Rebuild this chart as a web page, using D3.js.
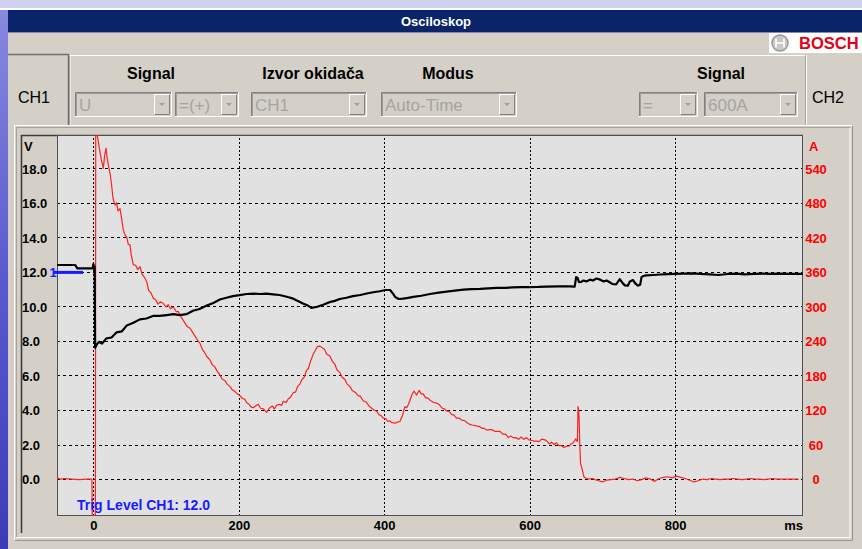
<!DOCTYPE html>
<html><head><meta charset="utf-8">
<script src="https://cdn.jsdelivr.net/npm/d3@7/dist/d3.min.js"></script>
<style>
html,body{margin:0;padding:0;overflow:hidden;background:#5a5ac8;}
svg{display:block;font-family:"Liberation Sans",Arial,sans-serif;}
</style></head>
<body>
<svg id="c" width="862" height="549"></svg>
<script>
// ---------- data ----------
const timeTicks = [0, 200, 400, 600, 800];
const voltTicks = [0, 2, 4, 6, 8, 10, 12, 14, 16, 18];
const ampTicks  = [0, 60, 120, 180, 240, 300, 360, 420, 480, 540];

// CH1 voltage (V) vs time (ms)
const ch1Time = [-50,-25,-22,-1,0,1,1.8,2.4,4.7,8,12,18,25,32,39,46,55,64,73,82,91,101,110,119,128,137,146,156,165,174,183,192,201,211,220,229,238,247,256,266,275,282,289,295,300,308,316,325,332,339,348,357,367,376,385,394,402,408,412,415,420,426,433,440,451,463,475,486,497,509,520,532,543,555,566,577,589,600,612,623,640,655,662,664,666,668,671,674,678,683,687,692,697,702,706,710,714,719,724,728,731,735,738,742,746,749,752,754,756,758,761,770,780,790,800,812,824,836,848,860,872,884,896,908,920,932,944,956,968,976];
const ch1Volt = [12.4,12.4,12.2,12.2,12.45,12.3,12.3,7.6,7.8,7.95,7.85,8.15,8.2,8.5,8.55,8.9,9.05,9.25,9.3,9.45,9.45,9.5,9.55,9.5,9.55,9.75,9.85,10.05,10.2,10.4,10.5,10.6,10.65,10.72,10.74,10.72,10.74,10.7,10.66,10.56,10.45,10.3,10.15,10.05,9.92,9.98,10.1,10.25,10.32,10.43,10.5,10.6,10.66,10.75,10.82,10.88,10.95,10.95,10.75,10.55,10.43,10.45,10.5,10.55,10.62,10.72,10.8,10.86,10.91,10.97,11.0,11.02,11.05,11.07,11.08,11.1,11.12,11.12,11.13,11.15,11.16,11.16,11.15,11.7,11.65,11.4,11.42,11.5,11.45,11.55,11.5,11.62,11.55,11.45,11.5,11.4,11.3,11.28,11.58,11.35,11.22,11.2,11.45,11.53,11.3,11.2,11.25,11.7,11.76,11.78,11.8,11.82,11.85,11.87,11.88,11.9,11.92,11.88,11.86,11.82,11.88,11.9,11.86,11.88,11.9,11.88,11.9,11.88,11.88,11.88];

// CH2 current (A) vs time (ms)
const ch2Time = [-50,-48,-45,-40,-30,-20,-10,-2,-1.5,2.8,3.3,5,7,9,11,13.7,15.5,17.4,19,20.6,23,25,27,29.8,32,34,36.7,39,41,43.6,46,48,50.4,52,55,58,61,64.2,67,70,73.4,76,79,82.5,86,89,92,96.3,100,103,106,110,114,117,119.2,123,126,129,133,137,140,143,146.6,150,153,156,160.3,164,167,170,174.1,177,181,184,187.8,191,194,198,201.6,205,208,210.8,214,217,219.9,223,226.8,230,234,238.3,242,246,249,252,256,259,261,265,268,271,274.9,278,281,284,287,290,293.3,296,298,300,302.4,305,308,311.6,315,318,321,325.3,329,332,335,339,342,346,349,352.8,356,360,364,367,371.1,375,379,382,386,389.6,393,396,398.6,402,405,408,410.2,412,414.7,418,421.6,425,428.5,431,433,435.3,438,441,444.5,448,451,453.6,457,460,464,468,472,476,480,483,485.8,489,493,496,499.5,503,507,510,514,517.8,521,525,528,531.5,535,538,541,545.2,548,552,556,559,563,567,571,574,577.3,581,585,588,592,595.7,599,603,606,609.5,613,616,619,623.2,627,630,634,637,640,644,647,650.7,654,657,660,663.5,664.8,665.8,666.6,667.6,668.4,669,670,675,680,686,690,695,700,706,712,718,724,730,736,742,748,754,760,766,772,778,784,790,796,802,808,814,820,826,832,838,844,850,856,862,868,874,880,886,892,898,904,910,916,922,928,934,940,946,952,958,964,970,976];
const ch2Amp = [3,1,0,1,0,-1,0,0,-70,-70,700,600,585,569,555,540,562,575,558,546,531,512,488,476,480,466,470,452,434,424,420,408,407,390,372,372,364,369,356,351,343,328,324,314,311,304,308,305,299,303,296,299,291,291,285,277,271,265,262,254,248,242,236,225,220,213,207,198,195,188,181,174,171,165,161,155,153,148,145,140,139,133,130,125,124,127,130,123,122,116,123,127,122,128,130,128,135,133,139,142,150,151,161,165,173,177,189,193,202,209,217,223,230,231,228,225,217,214,204,200,190,185,177,173,165,161,154,151,145,144,136,134,127,124,120,118,112,110,106,105,100,101,98,98,97,99,100,110,126,124,129,136,146,153,146,154,148,148,141,141,136,133,132,129,123,122,118,118,112,111,106,106,102,102,98,95,94,93,92,91,88,88,85,86,86,83,83,83,78,78,72,75,72,72,69,73,69,72,68,67,66,66,65,69,69,67,61,64,60,63,58,58,55,57,57,61,63,70,66,66,126,118,91,60,28,3,0,1,-1,-3,-5,-2,-1,0,3,1,-1,0,-3,-1,2,0,-4,1,3,4,2,5,3,1,-2,-5,-3,0,-1,1,0,-1,0,0,1,0,-1,0,1,0,0,-1,0,1,0,0,0,0,0,0];

// ---------- layout ----------
const svg = d3.select("#c");
const W = 862, H = 549;
const plot = {l: 57, r: 803, t: 135, b: 516};

// slide background
const defs = svg.append("defs");
const bg = defs.append("linearGradient").attr("id","bg").attr("x1",0).attr("y1",0).attr("x2",0).attr("y2",1);
bg.append("stop").attr("offset","0%").attr("stop-color","#8a8ae0");
bg.append("stop").attr("offset","50%").attr("stop-color","#5a5ad0");
bg.append("stop").attr("offset","100%").attr("stop-color","#3c3cb8");
svg.append("rect").attr("width",W).attr("height",H).attr("fill","url(#bg)");
svg.append("rect").attr("x",0).attr("y",0).attr("width",W).attr("height",8).attr("fill","#d0d0f0");
svg.append("rect").attr("x",0).attr("y",8).attr("width",W).attr("height",2).attr("fill","#ffffff");

// window
svg.append("rect").attr("x",8).attr("y",10).attr("width",W-8).attr("height",H-10).attr("fill","#d4d0c8");
svg.append("rect").attr("x",8).attr("y",10).attr("width",W-8).attr("height",22).attr("fill","#0a246a");
svg.append("line").attr("x1",8).attr("x2",W).attr("y1",32.5).attr("y2",32.5).attr("stroke","#8a8aa8");
svg.append("text").attr("x",436).attr("y",21).attr("dy","0.35em").attr("text-anchor","middle")
  .attr("fill","#fff").attr("font-weight","bold").attr("font-size",13).text("Osciloskop");

// Bosch logo
svg.append("rect").attr("x",769).attr("y",33).attr("width",93).attr("height",20).attr("fill","#ffffff");
svg.append("circle").attr("cx",780).attr("cy",43).attr("r",8).attr("fill","#c8c8c8").attr("stroke","#9a9a9a").attr("stroke-width",1.5);
svg.append("path").attr("d","M776,38.5 V47.5 M784,38.5 V47.5 M776,43 H784").attr("stroke","#ffffff").attr("stroke-width",1.6).attr("fill","none");
svg.append("text").attr("x",799).attr("y",43).attr("dy","0.36em").attr("fill","#e2001a")
  .attr("font-weight","bold").attr("font-size",16.5).text("BOSCH");

// tabs and control panel
svg.append("path").attr("d","M8,54.5 H68.5 V125").attr("stroke","#6f6f6f").attr("stroke-width",1.5).attr("fill","none");
svg.append("path").attr("d","M70,125 V55.5 H805").attr("stroke","#ffffff").attr("fill","none");
svg.append("path").attr("d","M69.5,125 V56").attr("stroke","#a0a0a0").attr("fill","none");
svg.append("path").attr("d","M805.5,125 V55").attr("stroke","#a8a49c").attr("fill","none");
svg.append("path").attr("d","M806.5,125 V55").attr("stroke","#ffffff").attr("fill","none");
svg.append("text").attr("x",18).attr("y",97).attr("dy","0.36em").attr("font-size",16).attr("fill","#000").text("CH1");
svg.append("text").attr("x",812).attr("y",97).attr("dy","0.36em").attr("font-size",16).attr("fill","#000").text("CH2");

const headLabels = [{x:151,t:"Signal"},{x:313,t:"Izvor okidača"},{x:448,t:"Modus"},{x:721,t:"Signal"}];
svg.selectAll("text.head").data(headLabels).enter().append("text").attr("class","head")
  .attr("x",d=>d.x).attr("y",73).attr("dy","0.36em").attr("text-anchor","middle")
  .attr("font-weight","bold").attr("font-size",16).attr("fill","#000").text(d=>d.t);

const boxes = [{x:75,w:97,t:"U"},{x:175,w:64,t:"=(+)"},{x:251,w:116,t:"CH1"},{x:381,w:136,t:"Auto-Time"},{x:639,w:59,t:"="},{x:704,w:94,t:"600A"}];
const bx = svg.selectAll("g.box").data(boxes).enter().append("g").attr("class","box");
const by = 92, bh = 25;
bx.append("rect").attr("x",d=>d.x+0.5).attr("y",by+0.5).attr("width",d=>d.w-1).attr("height",bh-1).attr("fill","#d4d0c8").attr("stroke","none");
bx.append("path").attr("d",d=>`M${d.x+0.5},${by+bh} V${by+0.5} H${d.x+d.w}`).attr("stroke","#808080").attr("fill","none");
bx.append("path").attr("d",d=>`M${d.x+1.5},${by+bh-1} V${by+1.5} H${d.x+d.w-1}`).attr("stroke","#404040").attr("stroke-opacity",0.35).attr("fill","none");
bx.append("path").attr("d",d=>`M${d.x},${by+bh-0.5} H${d.x+d.w-0.5} V${by}`).attr("stroke","#ffffff").attr("fill","none");
bx.append("rect").attr("x",d=>d.x+d.w-17.5).attr("y",by+2.5).attr("width",15).attr("height",bh-5).attr("fill","#d4d0c8").attr("stroke","#ffffff");
bx.append("path").attr("d",d=>`M${d.x+d.w-2.5},${by+2.5} V${by+bh-2.5} H${d.x+d.w-17.5}`).attr("stroke","#808080").attr("fill","none");
bx.append("path").attr("d",d=>{const cx=d.x+d.w-10, cy=by+bh/2; return `M${cx-3},${cy-1.5} L${cx+3},${cy-1.5} L${cx},${cy+1.5} Z`;}).attr("fill","#a0a0a0");
bx.append("text").attr("x",d=>d.x+4).attr("y",by+bh/2+0.5).attr("dy","0.36em").attr("font-size",17).attr("fill","#a4a4a4").text(d=>d.t);

// chart panel
svg.append("rect").attr("x",14.5).attr("y",125.5).attr("width",838).attr("height",415).attr("fill","#d4d0c8").attr("stroke","#ffffff");
svg.append("path").attr("d","M14.5,540.5 H852.5 V125.5").attr("stroke","#9a968e").attr("fill","none");
svg.append("path").attr("d","M16,537.5 H850 V128").attr("stroke","#ffffff").attr("fill","none");
svg.append("path").attr("d","M16.5,537 V127.5 H850").attr("stroke","#a8a49c").attr("fill","none");
svg.append("path").attr("d","M21.5,533 V135.5 H803").attr("stroke","#3c3c3c").attr("stroke-width",1.6).attr("fill","none");

svg.append("rect").attr("x",plot.l).attr("y",plot.t).attr("width",plot.r-plot.l).attr("height",plot.b-plot.t).attr("fill","#e1e1e1");

// scales
const x = d3.scaleLinear().domain([-50, 976]).range([plot.l, plot.r]);
const yV = d3.scaleLinear().domain([-2.14, 19.93]).range([plot.b, plot.t]);
const yA = d3.scaleLinear().domain([-2.14*30, 19.93*30]).range([plot.b, plot.t]);

// grid via axes
const gx = svg.append("g").attr("transform",`translate(0,${plot.b})`)
  .call(d3.axisBottom(x).tickValues(timeTicks).tickSize(-(plot.b-plot.t)).tickFormat(""));
gx.select(".domain").remove();
gx.selectAll("line").attr("stroke","#000").attr("stroke-dasharray","2,2").attr("shape-rendering","crispEdges");
const gy = svg.append("g").attr("transform",`translate(${plot.l},0)`)
  .call(d3.axisLeft(yV).tickValues(voltTicks).tickSize(-(plot.r-plot.l)).tickFormat(""));
gy.select(".domain").remove();
gy.selectAll("line").attr("stroke","#000").attr("stroke-dasharray","3,3").attr("shape-rendering","crispEdges");

// plot frame
svg.append("rect").attr("x",plot.l+0.5).attr("y",plot.t+0.5).attr("width",plot.r-plot.l-1).attr("height",plot.b-plot.t-1)
  .attr("fill","none").attr("stroke","#505050");

// labels via axes
const ax = svg.append("g").attr("transform",`translate(0,${plot.b+5})`)
  .call(d3.axisBottom(x).tickValues(timeTicks).tickSize(0).tickPadding(0).tickFormat(d3.format("d")));
ax.select(".domain").remove();
ax.selectAll("text").attr("font-family","Liberation Sans, Arial, sans-serif").attr("font-size",13).attr("font-weight","bold").attr("fill","#000");
svg.append("text").attr("x",plot.r).attr("y",525).attr("dy","0.36em").attr("text-anchor","end")
  .attr("font-size",13).attr("font-weight","bold").attr("fill","#000").text("ms");

const al = svg.append("g").attr("transform","translate(22,0)")
  .call(d3.axisLeft(yV).tickValues(voltTicks).tickSize(0).tickPadding(0).tickFormat(d3.format(".1f")));
al.select(".domain").remove();
al.selectAll("text").attr("text-anchor","start").attr("x",0).attr("dy","0.36em")
  .attr("font-family","Liberation Sans, Arial, sans-serif").attr("font-size",13).attr("font-weight","bold").attr("fill","#000");
svg.append("text").attr("x",24).attr("y",146).attr("dy","0.36em").attr("font-size",13).attr("font-weight","bold").attr("fill","#000").text("V");

const ar = svg.append("g").attr("transform","translate(816,0)")
  .call(d3.axisRight(yA).tickValues(ampTicks).tickSize(0).tickPadding(0).tickFormat(d3.format("d")));
ar.select(".domain").remove();
ar.selectAll("text").attr("text-anchor","middle").attr("x",0).attr("dy","0.36em")
  .attr("font-family","Liberation Sans, Arial, sans-serif").attr("font-size",13).attr("font-weight","bold").attr("fill","#ff0000");
svg.append("text").attr("x",809).attr("y",146).attr("dy","0.36em").attr("font-size",13).attr("font-weight","bold").attr("fill","#ff0000").text("A");

// trigger marker
const trigLevel = 12.0;
svg.append("text").attr("x",49.5).attr("y",yV(trigLevel)).attr("dy","0.36em").attr("font-size",13).attr("font-weight","bold").attr("fill","#1a1aff").text("1");
svg.append("line").attr("x1",53).attr("x2",83).attr("y1",yV(trigLevel)+0.5).attr("y2",yV(trigLevel)+0.5).attr("stroke","#1a1aff").attr("stroke-width",3);

// traces
defs.append("clipPath").attr("id","clip").append("rect").attr("x",plot.l).attr("y",plot.t).attr("width",plot.r-plot.l).attr("height",plot.b-plot.t);
const g = svg.append("g").attr("clip-path","url(#clip)");
const redLine = d3.line().x((d,i)=>x(ch2Time[i])).y(d=>yA(d));
g.append("path").attr("d",redLine(ch2Amp)).attr("fill","none").attr("stroke","#ff2020").attr("stroke-width",1.2).attr("stroke-linejoin","round");
const blackLine = d3.line().x((d,i)=>x(ch1Time[i])).y(d=>yV(d));
g.append("path").attr("d",blackLine(ch1Volt)).attr("fill","none").attr("stroke","#000").attr("stroke-width",2.2).attr("stroke-linejoin","round");

svg.append("text").attr("x",77).attr("y",505).attr("dy","0.36em").attr("font-size",14).attr("font-weight","bold")
  .attr("fill","#1a1aff").text("Trig Level CH1: " + trigLevel.toFixed(1));
</script>
</body></html>
